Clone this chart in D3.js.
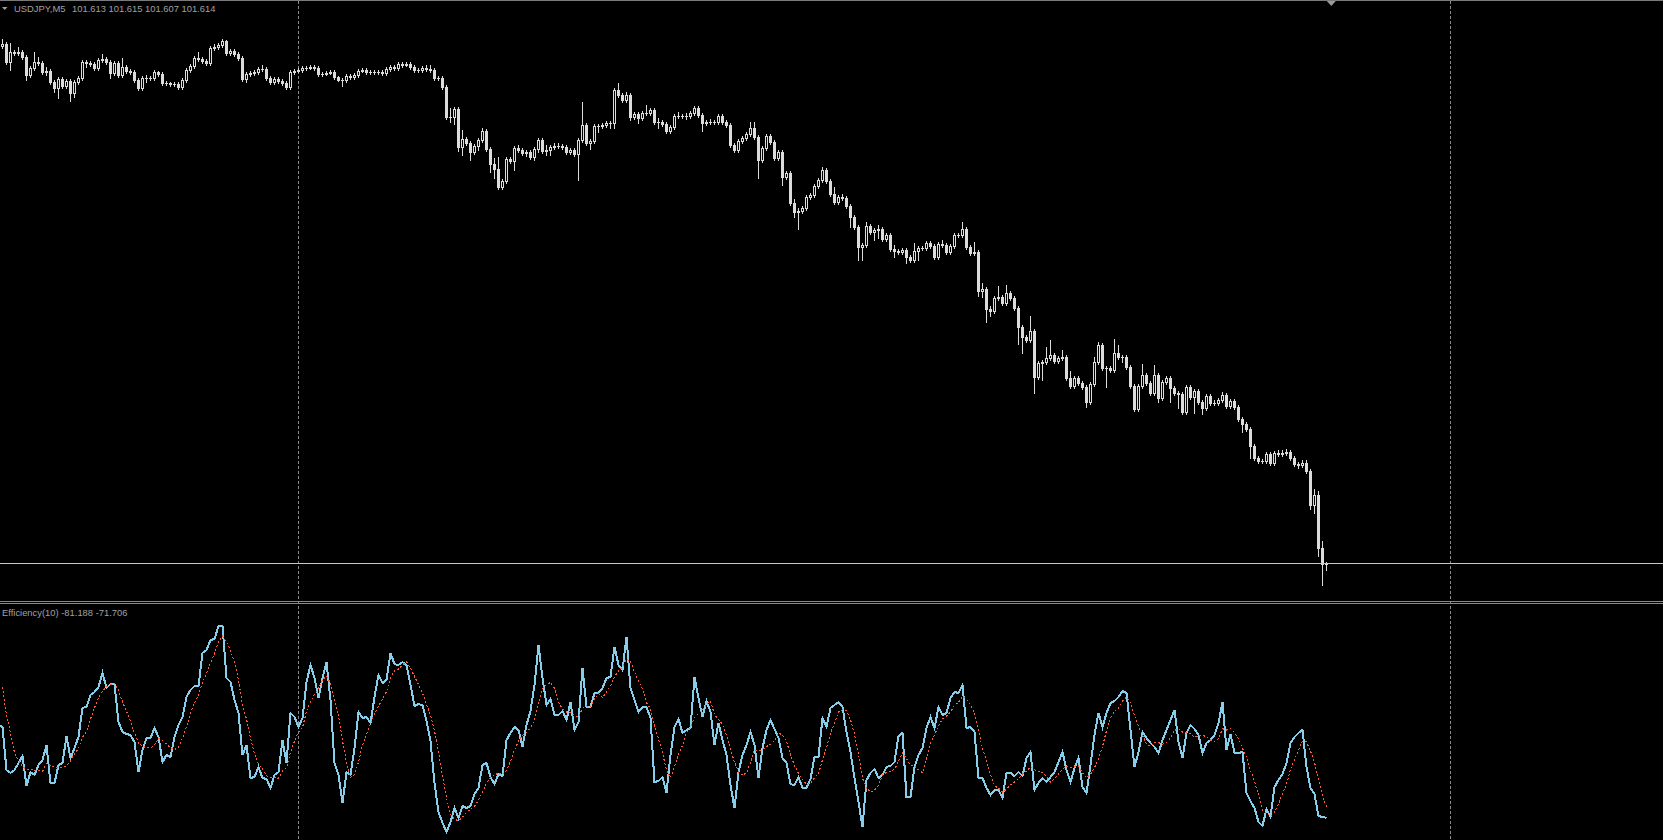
<!DOCTYPE html>
<html><head><meta charset="utf-8">
<script src="https://cdn.jsdelivr.net/npm/d3@7"></script>
<style>html,body{margin:0;padding:0;background:#000;overflow:hidden}</style>
</head><body>
<script>
// ---------------- DATA ----------------
const symbol = "USDJPY", timeframe = "M5";
const indicatorName = "Efficiency(10)";
const indicatorLabelValues = ["-81.188", "-71.706"];
const firstOpen = 102.131;
const close = [
102.133,102.115,102.125,102.124,102.125,102.120,102.102,102.109,102.115,102.114,
102.105,102.106,102.095,102.089,102.098,102.091,102.096,102.084,102.095,102.099,
102.115,102.114,102.113,102.109,102.117,102.118,102.115,102.104,102.114,102.102,
102.110,102.106,102.105,102.097,102.089,102.099,102.099,102.099,102.105,102.103,
102.094,102.094,102.093,102.093,102.090,102.097,102.107,102.111,102.119,102.118,
102.116,102.114,102.129,102.130,102.132,102.136,102.124,102.126,102.123,102.119,
102.098,102.103,102.104,102.105,102.108,102.108,102.099,102.095,102.098,102.096,
102.094,102.090,102.105,102.106,102.107,102.109,102.109,102.110,102.109,102.103,
102.103,102.104,102.105,102.100,102.097,102.097,102.101,102.100,102.102,102.106,
102.107,102.105,102.105,102.105,102.105,102.104,102.108,102.110,102.109,102.113,
102.112,102.113,102.110,102.107,102.107,102.109,102.108,102.107,102.099,102.099,
102.090,102.060,102.060,102.068,102.030,102.038,102.034,102.025,102.031,102.037,
102.046,102.028,102.013,102.008,101.990,101.996,102.018,102.016,102.029,102.027,
102.024,102.025,102.020,102.028,102.037,102.026,102.027,102.030,102.031,102.031,
102.030,102.025,102.027,102.023,102.037,102.052,102.034,102.036,102.051,102.051,
102.052,102.054,102.054,102.087,102.082,102.077,102.082,102.060,102.063,102.059,
102.064,102.064,102.067,102.055,102.055,102.053,102.046,102.050,102.061,102.061,
102.061,102.061,102.064,102.069,102.062,102.054,102.055,102.055,102.055,102.061,
102.055,102.052,102.032,102.027,102.036,102.039,102.043,102.049,102.040,102.017,
102.029,102.041,102.035,102.019,102.025,102.000,102.004,101.974,101.965,101.966,
101.969,101.980,101.982,101.991,101.997,102.007,101.996,101.983,101.975,101.980,
101.979,101.971,101.960,101.950,101.930,101.932,101.951,101.945,101.947,101.948,
101.938,101.942,101.928,101.926,101.925,101.927,101.920,101.917,101.926,101.929,
101.929,101.934,101.931,101.920,101.933,101.932,101.925,101.931,101.942,101.942,
101.948,101.930,101.924,101.925,101.886,101.888,101.868,101.866,101.879,101.880,
101.874,101.884,101.879,101.869,101.850,101.840,101.837,101.846,101.800,101.814,
101.815,101.819,101.822,101.816,101.819,101.820,101.799,101.791,101.799,101.794,
101.790,101.775,101.793,101.815,101.832,101.809,101.809,101.807,101.824,101.820,
101.820,101.810,101.791,101.768,101.791,101.802,101.794,101.784,101.802,101.779,
101.795,101.799,101.789,101.784,101.783,101.765,101.790,101.780,101.786,101.775,
101.769,101.781,101.774,101.774,101.777,101.782,101.771,101.776,101.770,101.758,
101.753,101.748,101.731,101.719,101.716,101.716,101.723,101.714,101.724,101.723,
101.724,101.725,101.719,101.713,101.712,101.714,101.706,101.672,101.682,101.629,
101.613,101.614];
const high = [
102.138,102.135,102.134,102.127,102.130,102.127,102.122,102.111,102.125,102.120,
102.116,102.110,102.108,102.097,102.100,102.100,102.098,102.098,102.097,102.101,
102.117,102.117,102.116,102.115,102.119,102.123,102.120,102.117,102.116,102.116,
102.119,102.112,102.108,102.107,102.099,102.101,102.102,102.101,102.107,102.106,
102.105,102.096,102.095,102.095,102.095,102.099,102.109,102.113,102.121,102.125,
102.120,102.118,102.131,102.133,102.134,102.138,102.137,102.128,102.128,102.125,
102.121,102.105,102.106,102.107,102.110,102.112,102.110,102.101,102.100,102.100,
102.098,102.096,102.107,102.108,102.109,102.111,102.111,102.112,102.112,102.111,
102.105,102.106,102.107,102.107,102.101,102.099,102.103,102.103,102.104,102.108,
102.109,102.109,102.107,102.107,102.107,102.107,102.110,102.112,102.112,102.115,
102.115,102.115,102.115,102.112,102.109,102.111,102.112,102.112,102.109,102.101,
102.101,102.092,102.069,102.070,102.070,102.047,102.040,102.036,102.033,102.039,
102.049,102.048,102.030,102.019,102.020,101.998,102.020,102.020,102.031,102.032,
102.029,102.027,102.027,102.030,102.039,102.039,102.032,102.032,102.034,102.034,
102.033,102.032,102.029,102.029,102.039,102.075,102.054,102.038,102.053,102.053,
102.054,102.056,102.056,102.089,102.094,102.084,102.085,102.084,102.065,102.065,
102.066,102.072,102.069,102.069,102.059,102.057,102.055,102.052,102.063,102.065,
102.063,102.064,102.066,102.071,102.071,102.064,102.057,102.058,102.057,102.063,
102.063,102.057,102.054,102.034,102.038,102.041,102.045,102.055,102.055,102.042,
102.031,102.043,102.043,102.037,102.027,102.027,102.006,102.006,101.978,101.969,
101.971,101.982,101.984,101.993,101.999,102.010,102.009,101.998,101.990,101.982,
101.983,101.981,101.973,101.962,101.952,101.934,101.955,101.953,101.949,101.952,
101.950,101.944,101.944,101.932,101.928,101.929,101.929,101.922,101.934,101.931,
101.931,101.936,101.936,101.933,101.935,101.937,101.934,101.933,101.944,101.944,
101.955,101.950,101.932,101.935,101.927,101.894,101.890,101.871,101.881,101.891,
101.882,101.892,101.886,101.881,101.871,101.852,101.842,101.861,101.848,101.816,
101.817,101.830,101.837,101.824,101.821,101.827,101.822,101.806,101.801,101.801,
101.796,101.792,101.795,101.820,101.835,101.834,101.811,101.811,101.838,101.832,
101.822,101.822,101.812,101.793,101.793,101.813,101.804,101.796,101.812,101.804,
101.797,101.801,101.801,101.791,101.786,101.785,101.792,101.792,101.788,101.788,
101.777,101.783,101.783,101.777,101.779,101.785,101.784,101.778,101.778,101.772,
101.760,101.755,101.750,101.733,101.721,101.718,101.725,101.725,101.726,101.727,
101.727,101.728,101.727,101.721,101.715,101.717,101.717,101.708,101.688,101.686,
101.636,101.615];
const low = [
102.129,102.113,102.107,102.122,102.122,102.118,102.097,102.100,102.107,102.112,
102.103,102.102,102.093,102.085,102.079,102.089,102.089,102.076,102.080,102.093,
102.097,102.110,102.111,102.107,102.107,102.115,102.113,102.099,102.102,102.100,
102.100,102.104,102.103,102.095,102.087,102.087,102.095,102.097,102.097,102.101,
102.092,102.092,102.091,102.091,102.088,102.088,102.095,102.105,102.109,102.116,
102.114,102.112,102.112,102.127,102.128,102.130,102.122,102.122,102.121,102.117,
102.096,102.095,102.101,102.102,102.103,102.106,102.097,102.093,102.093,102.094,
102.092,102.088,102.088,102.103,102.105,102.105,102.107,102.108,102.107,102.101,
102.101,102.102,102.103,102.098,102.096,102.091,102.095,102.098,102.098,102.100,
102.105,102.103,102.103,102.103,102.103,102.102,102.102,102.106,102.107,102.107,
102.110,102.111,102.108,102.105,102.105,102.105,102.106,102.105,102.097,102.097,
102.088,102.058,102.055,102.053,102.026,102.022,102.032,102.017,102.023,102.027,
102.035,102.026,102.005,101.999,101.988,101.988,101.994,102.014,102.007,102.025,
102.022,102.021,102.018,102.017,102.025,102.024,102.022,102.022,102.028,102.029,
102.028,102.023,102.023,102.021,101.997,102.035,102.032,102.028,102.034,102.045,
102.049,102.050,102.049,102.049,102.080,102.075,102.075,102.057,102.058,102.054,
102.057,102.062,102.062,102.053,102.049,102.051,102.044,102.044,102.048,102.059,
102.059,102.058,102.059,102.062,102.060,102.046,102.052,102.053,102.053,102.053,
102.053,102.050,102.030,102.025,102.025,102.034,102.037,102.041,102.038,101.999,
102.015,102.027,102.033,102.017,102.017,101.992,101.998,101.972,101.960,101.948,
101.964,101.967,101.978,101.980,101.989,101.995,101.994,101.981,101.973,101.973,
101.977,101.969,101.950,101.948,101.917,101.917,101.930,101.943,101.937,101.939,
101.936,101.936,101.926,101.920,101.923,101.923,101.914,101.915,101.915,101.917,
101.927,101.927,101.929,101.918,101.918,101.930,101.923,101.923,101.929,101.940,
101.940,101.928,101.922,101.922,101.881,101.880,101.855,101.861,101.864,101.877,
101.872,101.872,101.877,101.867,101.833,101.824,101.835,101.835,101.784,101.798,
101.797,101.813,101.817,101.814,101.814,101.817,101.797,101.789,101.789,101.792,
101.788,101.770,101.773,101.791,101.813,101.807,101.790,101.805,101.805,101.818,
101.815,101.808,101.789,101.766,101.766,101.789,101.792,101.782,101.782,101.775,
101.777,101.793,101.775,101.782,101.769,101.763,101.763,101.778,101.764,101.773,
101.763,101.767,101.772,101.772,101.772,101.775,101.769,101.769,101.768,101.756,
101.745,101.746,101.719,101.717,101.714,101.714,101.714,101.712,101.712,101.721,
101.721,101.722,101.717,101.711,101.709,101.710,101.704,101.668,101.664,101.621,
101.592,101.607];
// Efficiency(10) main buffer (4 bars left of the window, then one value per visible bar)
const effPrior = [78.0, 33.0, 44.1, -2.5];
const efficiency = [
-4.2,-40.7,-43.2,-40.7,-34.8,-28.8,-54.2,-42.4,-44.9,-36.4,
-32.2,-19.5,-51.7,-51.7,-36.4,-34.8,-11.9,-30.5,-22.0,-12.7,
11.9,12.7,22.9,25.4,29.7,41.5,28.8,32.2,32.2,0.0,
-8.5,-10.2,-11.0,-17.0,-42.4,-23.7,-13.6,-13.6,-5.1,-12.7,
-33.9,-28.0,-29.7,-12.7,-2.5,4.2,21.2,27.1,30.5,30.5,
58.5,61.0,69.5,70.3,81.4,81.4,37.3,33.9,18.6,7.6,
-28.0,-19.5,-47.5,-46.6,-38.1,-47.5,-48.3,-55.9,-44.9,-42.4,
-15.3,-34.8,7.6,4.2,-4.2,3.4,33.9,48.3,37.3,20.3,
37.3,50.8,18.6,-34.8,-44.9,-68.7,-42.4,-44.9,-22.0,8.5,
3.4,4.2,-0.9,21.2,39.8,33.0,35.6,58.5,49.1,48.3,
50.8,48.3,31.4,13.6,15.2,14.4,0.8,-16.1,-51.7,-76.3,
-85.6,-93.2,-84.8,-72.9,-81.4,-71.2,-72.9,-71.2,-61.0,-55.9,
-36.4,-34.8,-46.6,-52.6,-44.1,-45.8,-15.3,-9.3,-4.2,-6.8,
-21.2,-2.5,9.3,31.4,65.3,37.3,14.4,19.5,5.9,5.9,
9.3,1.7,16.9,-6.8,0.0,45.8,12.7,12.7,24.6,24.6,
28.8,37.3,38.1,63.6,48.3,44.1,72.0,28.8,18.6,8.5,
12.7,12.7,3.4,-50.9,-50.0,-46.6,-60.2,-28.0,-4.2,2.5,
-9.3,-6.8,-5.1,38.1,20.3,4.2,17.8,8.5,-19.5,-0.9,
-15.3,-28.0,-53.4,-72.9,-42.4,-28.0,-19.5,-8.5,-19.5,-47.5,
-22.0,-6.8,1.7,-5.9,-13.6,-30.5,-34.8,-52.6,-53.4,-46.6,
-55.9,-55.9,-48.3,-29.7,-29.7,3.4,-4.2,11.9,14.4,16.9,
12.7,-8.5,-25.4,-47.5,-67.8,-89.0,-49.2,-43.2,-39.8,-47.5,
-44.9,-38.1,-37.3,-33.9,-11.9,-9.3,-63.6,-63.6,-38.1,-28.0,
-22.0,-5.1,4.2,-5.1,12.7,5.9,7.6,20.3,25.4,24.6,
31.4,-5.1,-4.2,-8.5,-47.5,-47.5,-55.9,-61.9,-57.6,-57.6,
-64.4,-43.2,-43.2,-45.8,-42.4,-45.8,-30.5,-25.4,-57.6,-51.7,
-47.5,-50.9,-46.6,-42.4,-33.9,-25.4,-40.7,-50.9,-39.0,-30.5,
-55.1,-60.2,-36.4,-11.0,7.6,-4.2,7.6,16.1,17.8,21.2,
26.3,24.6,-6.8,-38.1,-25.4,-8.5,-13.6,-17.8,-21.2,-26.3,
-15.3,-6.8,1.7,10.2,-17.0,-30.5,-9.3,-2.5,-5.9,-11.0,
-26.3,-17.8,-15.3,-11.0,-0.9,16.9,-23.7,-10.2,-26.3,-26.3,
-25.4,-60.2,-67.0,-72.9,-84.8,-88.1,-73.7,-80.5,-55.1,-49.2,
-44.1,-34.8,-17.8,-12.7,-9.3,-6.8,-38.1,-56.0,-61.0,-79.7,
-80.5,-81.188];
const signalPeriod = 5;          // signal buffer = SMA(5) of the main buffer
const separatorBars = [74, 362]; // day separators (bar index)
const shiftMarkerBar = 332.2;

// ---------------- LAYOUT ----------------
const W = 1663, H = 840;
const mainTop = 0, mainBottom = 600, subTop = 604, subBottom = 840;
const CANDLE = "#DCDCDC", GRID = "#8A8A8A", TEXT = "#A0A0A0";

const svg = d3.select("body").append("svg")
  .attr("width", W).attr("height", H)
  .style("display", "block").style("font-family", "'Liberation Sans', Arial, sans-serif");
svg.append("rect").attr("width", W).attr("height", H).attr("fill", "#000");

const n = close.length;
const open = close.map((c, i) => i === 0 ? firstOpen : close[i - 1]);

const x = d3.scaleLinear().domain([0, n - 1]).range([2.5, 2.5 + 4 * (n - 1)]);
const y = d3.scaleLinear().domain([101.577, 102.177]).range([mainBottom, mainTop]);
const ye = d3.scaleLinear().domain([-100, 100]).range([subBottom, subTop]);
const Y = v => Math.round(y(v));

const defs = svg.append("defs");
defs.append("clipPath").attr("id", "clipMain").append("rect")
  .attr("x", 0).attr("y", 0).attr("width", W).attr("height", 601);
defs.append("clipPath").attr("id", "clipSub").append("rect")
  .attr("x", 0).attr("y", subTop + 1).attr("width", W).attr("height", subBottom - subTop);

// frame lines
svg.append("rect").attr("x", 0).attr("y", 0).attr("width", W).attr("height", 1).attr("fill", "#7A7A7A");
svg.append("rect").attr("x", 0).attr("y", 601).attr("width", W).attr("height", 1).attr("fill", "#8A8A8A");
svg.append("rect").attr("x", 0).attr("y", 603).attr("width", W).attr("height", 1).attr("fill", "#8A8A8A");

// day separators
svg.selectAll("line.sep").data(separatorBars).join("line")
  .attr("class", "sep")
  .attr("x1", d => Math.floor(x(d)) + 0.5).attr("x2", d => Math.floor(x(d)) + 0.5)
  .attr("y1", 1).attr("y2", H)
  .attr("stroke", GRID).attr("stroke-width", 1).attr("stroke-dasharray", "3,2");

// candles
const gC = svg.append("g").attr("clip-path", "url(#clipMain)").attr("shape-rendering", "crispEdges");
const bars = d3.range(n).map(i => ({i, o: open[i], h: high[i], l: low[i], c: close[i]}));
const cg = gC.selectAll("g.c").data(bars).join("g").attr("class", "c");
cg.append("rect")
  .attr("x", d => x(d.i) - 0.5).attr("width", 1)
  .attr("y", d => Y(d.h)).attr("height", d => Y(d.l) - Y(d.h) + 1)
  .attr("fill", CANDLE);
cg.append("rect")
  .attr("x", d => x(d.i) - 1.5).attr("width", 3)
  .attr("y", d => Math.min(Y(d.o), Y(d.c)))
  .attr("height", d => Math.abs(Y(d.o) - Y(d.c)) + 1)
  .attr("fill", CANDLE);
cg.filter(d => Y(d.c) < Y(d.o) - 1).append("rect")
  .attr("x", d => x(d.i) - 0.5).attr("width", 1)
  .attr("y", d => Y(d.c) + 1).attr("height", d => Y(d.o) - Y(d.c) - 1)
  .attr("fill", "#000");

// bid line
const last = bars[n - 1];
svg.append("rect").attr("x", 0).attr("y", Y(last.c)).attr("width", W).attr("height", 1)
  .attr("fill", "#C8C8C8");

// header
svg.append("path").attr("d", "M2,7 L7.5,7 L4.75,10 Z").attr("fill", TEXT);
svg.append("text").attr("x", 14).attr("y", 12).attr("fill", TEXT).attr("font-size", 9.4)
  .text(`${symbol},${timeframe}`);
svg.append("text").attr("x", 72).attr("y", 12).attr("fill", TEXT).attr("font-size", 9.4)
  .text([last.o, last.h, last.l, last.c].map(v => v.toFixed(3)).join(" "));
// chart-shift marker
const sx = x(shiftMarkerBar);
svg.append("path").attr("d", `M${sx - 4.5},1 L${sx + 4.5},1 L${sx},6 Z`).attr("fill", "#9A9A9A");

// indicator
const effAll = effPrior.concat(efficiency);
const off = effPrior.length;
const mainPts = effAll.map((v, k) => [k - off, v]);
const sigPts = [];
for (let k = signalPeriod - 1; k < effAll.length; k++) {
  sigPts.push([k - off, d3.mean(effAll.slice(k - signalPeriod + 1, k + 1))]);
}
const line = d3.line().x(d => x(d[0])).y(d => ye(d[1]));
const gS = svg.append("g").attr("clip-path", "url(#clipSub)");
gS.append("path").datum(mainPts).attr("d", line)
  .attr("fill", "none").attr("stroke", "#87CEEB").attr("stroke-width", 2)
  .attr("stroke-linejoin", "miter").attr("shape-rendering", "crispEdges");
gS.append("path").datum(sigPts).attr("d", line)
  .attr("fill", "none").attr("stroke", "#FF5A3A").attr("stroke-width", 1)
  .attr("stroke-dasharray", "2,2").attr("shape-rendering", "crispEdges");
svg.append("text").attr("x", 2).attr("y", 616).attr("fill", TEXT).attr("font-size", 9.4)
  .text(`${indicatorName} ${indicatorLabelValues.join(" ")}`);
</script>
</body></html>
